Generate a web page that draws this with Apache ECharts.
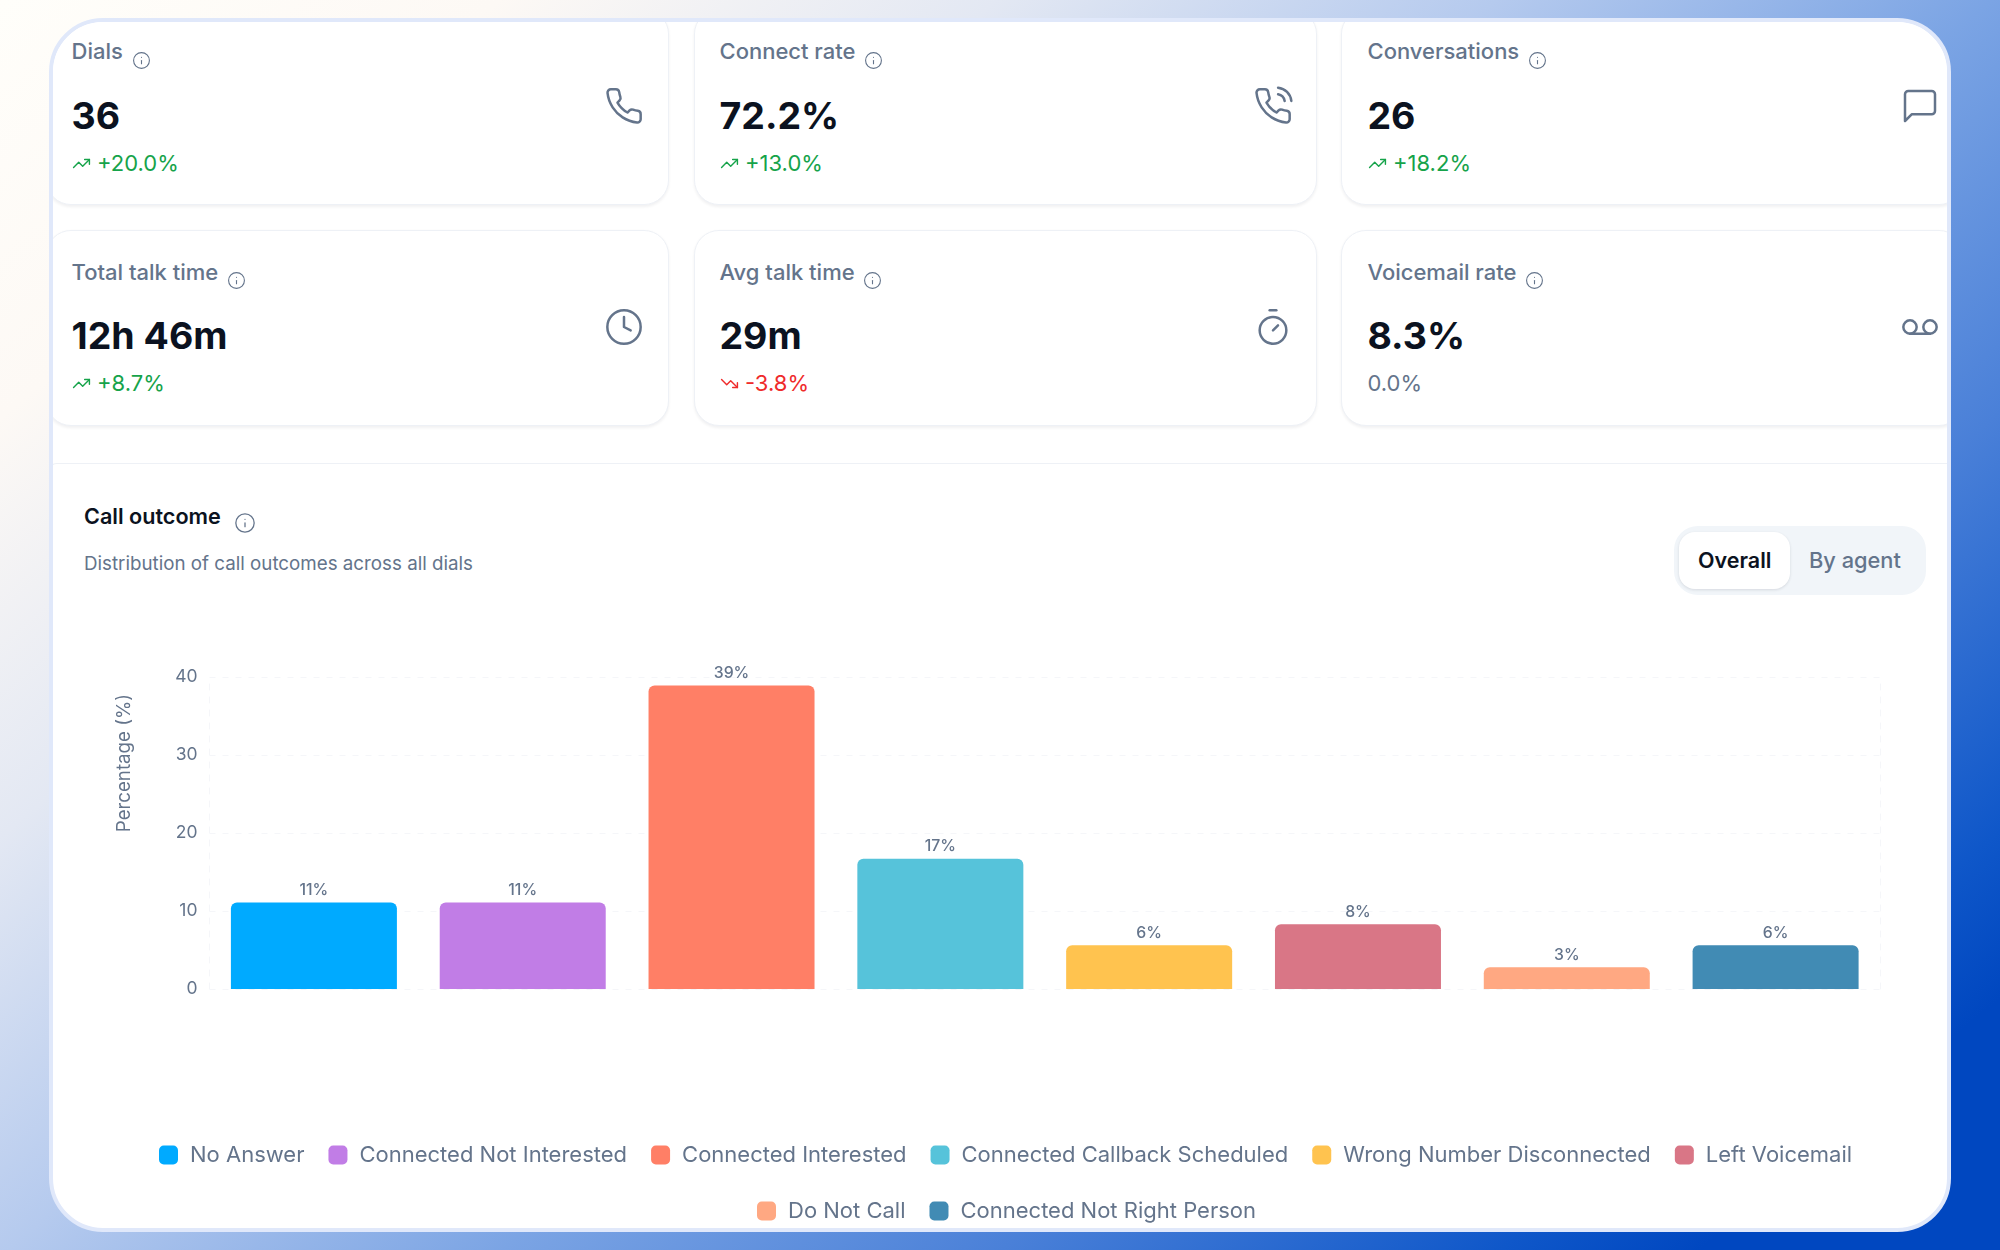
<!DOCTYPE html>
<html>
<head>
<meta charset="utf-8">
<title>Call outcome</title>
<script src="https://cdn.jsdelivr.net/npm/echarts@6/dist/echarts.min.js"></script>
<style>
html,body{margin:0;padding:0;width:2000px;height:1250px;overflow:hidden;font-family:Inter,sans-serif;}
#bg{position:absolute;left:0;top:0;width:2000px;height:1250px;background:linear-gradient(140deg,#fffefa 0%,#fdf9f5 14.3%,#e3e8f3 28.6%,#b5caee 42.9%,#7ba4e4 57.1%,#4a80d8 71.4%,#0f57c9 85.7%,#0047c0 91.4%,#0047c0 100%);}
#frame{position:absolute;left:48.5px;top:18px;width:1894.5px;height:1206px;border:4px solid #e0e8fa;border-radius:54px;background:#fff;overflow:hidden;}
#page{position:absolute;left:-52.5px;top:-22px;width:2000px;height:1250px;}
.card{position:absolute;width:623px;box-sizing:border-box;border:1.5px solid #eef1f6;border-radius:25px;background:#fff;box-shadow:0 1.5px 3px rgba(15,23,42,.06);}
.t{position:absolute;white-space:nowrap;line-height:1;}
.lab{font-size:22px;font-weight:500;color:#64748b;}
.val{font-size:37.5px;font-weight:700;color:#0b1220;}
.del{font-size:22px;font-weight:400;}
svg{position:absolute;fill:none;stroke-linecap:round;stroke-linejoin:round;}
#panel{position:absolute;left:47px;top:463px;width:1960px;height:800px;border-top:1.5px solid #eef1f6;border-left:1.5px solid #eef1f6;border-radius:10px 0 0 0;}
#toggle{position:absolute;left:1674px;top:526px;width:252px;height:69px;border-radius:24px;background:#f1f5f9;}
#pill{position:absolute;left:1679px;top:532px;width:111px;height:57px;border-radius:16px;background:#fff;box-shadow:0 1px 3px rgba(15,23,42,.12);}
#chart{position:absolute;left:0;top:0;width:2000px;height:1250px;}
</style>
</head>
<body>
<div id="bg"></div>
<div id="frame"><div id="page">
  <div id="cards"></div>
  <div id="panel"></div>
  <div class="t" style="left:84px;top:506px;font-size:21.6px;font-weight:600;color:#0b1220">Call outcome</div>
  <div class="t" style="left:84px;top:555px;font-size:18.75px;color:#64748b">Distribution of call outcomes across all dials</div>
  <div id="toggle"></div><div id="pill"></div>
  <div class="t" style="left:1698px;top:550px;font-size:21.5px;font-weight:600;color:#0b1220">Overall</div>
  <div class="t" style="left:1809px;top:550px;font-size:21.8px;font-weight:500;color:#64748b">By agent</div>
  <div id="icons"></div>
  <div id="chart"></div>
</div></div>
<script>
// ---- data ----
const categories = ["No Answer","Connected Not Interested","Connected Interested","Connected Callback Scheduled","Wrong Number Disconnected","Left Voicemail","Do Not Call","Connected Not Right Person"];
const percentages = [11.1,11.1,38.9,16.7,5.6,8.3,2.8,5.6];
const barColors = ["#00aaff","#c17de6","#ff7f66","#56c3da","#ffc34f","#d97686","#ffa882","#418bb4"];
const yTicks = {min:0,max:40,interval:10};
const legendRow1 = categories.slice(0,6);
const legendRow2 = categories.slice(6);
const kpiLabels = ["Dials","Connect rate","Conversations","Total talk time","Avg talk time","Voicemail rate"];
const kpiValues = ["36","72.2%","26","12h 46m","29m","8.3%"];
const kpiDeltas = ["+20.0%","+13.0%","+18.2%","+8.7%","-3.8%","0.0%"];
const kpiInfoX = [141.5,873.5,1537.5,236.5,872,1534];

const ICONS = {
 phone:'<path d="M22 16.92v3a2 2 0 0 1-2.18 2 19.79 19.79 0 0 1-8.63-3.07 19.5 19.5 0 0 1-6-6 19.79 19.79 0 0 1-3.07-8.67A2 2 0 0 1 4.11 2h3a2 2 0 0 1 2 1.72 12.84 12.84 0 0 0 .7 2.81 2 2 0 0 1-.45 2.11L8.09 9.91a16 16 0 0 0 6 6l1.27-1.27a2 2 0 0 1 2.11-.45 12.84 12.84 0 0 0 2.81.7A2 2 0 0 1 22 16.92z"/>',
 call:'<path d="M22 16.92v3a2 2 0 0 1-2.18 2 19.79 19.79 0 0 1-8.63-3.07 19.5 19.5 0 0 1-6-6 19.79 19.79 0 0 1-3.07-8.67A2 2 0 0 1 4.11 2h3a2 2 0 0 1 2 1.72 12.84 12.84 0 0 0 .7 2.81 2 2 0 0 1-.45 2.11L8.09 9.91a16 16 0 0 0 6 6l1.27-1.27a2 2 0 0 1 2.11-.45 12.84 12.84 0 0 0 2.81.7A2 2 0 0 1 22 16.92z"/><path d="M15.05 5A5 5 0 0 1 19 8.95"/><path d="M15.05 1A9 9 0 0 1 23 8.94"/>',
 msg:'<path d="M21 15a2 2 0 0 1-2 2H7l-4 4V5a2 2 0 0 1 2-2h14a2 2 0 0 1 2 2z"/>',
 clock:'<circle cx="12" cy="12" r="10"/><polyline points="12 6 12 12 16 14"/>',
 timer:'<line x1="10" y1="2" x2="14" y2="2"/><line x1="12" y1="14" x2="15" y2="11"/><circle cx="12" cy="14" r="8"/>',
 vm:'<circle cx="6" cy="12" r="4"/><circle cx="18" cy="12" r="4"/><line x1="6" y1="16" x2="18" y2="16"/>',
 up:'<polyline points="22 7 13.5 15.5 8.5 10.5 2 17"/><polyline points="16 7 22 7 22 13"/>',
 down:'<polyline points="22 17 13.5 8.5 8.5 13.5 2 7"/><polyline points="16 17 22 17 22 11"/>',
 info:'<circle cx="12" cy="12" r="10"/><path d="M12 16v-4"/><path d="M12 8h.01"/>'
};
function icon(name,cx,cy,size,color,sw){
  return `<svg viewBox="0 0 24 24" width="${size}" height="${size}" style="left:${cx-size/2}px;top:${cy-size/2}px;stroke:${color};stroke-width:${sw}">${ICONS[name]}</svg>`;
}
const colX=[46,694,1341], rowTop=[9,230], rowH=196;
const kpiIcons=["phone","call","msg","clock","timer","vm"];
const iconX=[624,1273,1920];
let h="";
kpiLabels.forEach((l,i)=>{
  const c=i%3,r=Math.floor(i/3),x=colX[c],y=rowTop[r];
  const tx=[71.5,719.5,1367.5][c];
  const base=r===0?[40,97,152]:[261,317,372];
  h+=`<div class="card" style="left:${x}px;top:${y}px;height:${rowH}px"></div>`;
  h+=`<div class="t lab" style="left:${tx}px;top:${base[0]}px">${l}</div>`;
  h+=`<div class="t val" style="left:${tx}px;top:${base[1]}px">${kpiValues[i]}</div>`;
  const d=kpiDeltas[i], col=d[0]==='+'?'#16a34a':d[0]==='-'?'#ef2b2b':'#64748b';
  const off=d[0]==='+'||d[0]==='-';
  h+=`<div class="t del" style="left:${tx+(off?25.5:0)}px;top:${base[2]}px;color:${col}">${d}</div>`;
  if(off) h+=icon(d[0]==='+'?'up':'down',tx+10,base[2]+11,19,col,1.8);
  h+=icon("info",kpiInfoX[i],r===0?60:280.5,19,'#64748b',1.4);
  h+=icon(kpiIcons[i],iconX[c],r===0?106:327,40,'#64748b',1.5);
});
document.getElementById('cards').innerHTML=h;
document.getElementById('icons').innerHTML=icon("info",245,523,22,'#64748b',1.4);

const labelColor='#64748b', gridColor='#f5f6f9';
const dash={color:gridColor,width:1,type:[6,7]};
const series=categories.map((name,i)=>({
  name,type:'bar',stack:'outcome',barWidth:166,
  itemStyle:{color:barColors[i],borderRadius:[6,6,0,0]},
  label:{show:true,position:'top',distance:4,fontFamily:'Inter',fontSize:15.8,fontWeight:500,color:labelColor,formatter:p=>Math.round(p.value)+'%'},
  data:categories.map((c,j)=>j===i?percentages[i]:null),
  silent:true
}));
const legendBase={orient:'horizontal',icon:'roundRect',itemWidth:19,itemHeight:19,itemGap:24,selectedMode:false,
  textStyle:{fontFamily:'Inter',fontSize:22,color:labelColor,padding:[0,0,0,7]}};
const chart=echarts.init(document.getElementById('chart'),null,{width:2000,height:1250});
chart.setOption({
  animation:false,backgroundColor:'transparent',
  grid:{left:209.5,right:120,top:677,height:312},
  xAxis:{type:'category',data:categories,axisLine:{show:false},axisTick:{show:false},axisLabel:{show:false},splitLine:{show:false}},
  yAxis:[
   {type:'value',min:yTicks.min,max:yTicks.max,interval:yTicks.interval,
    name:'Percentage (%)',nameLocation:'middle',nameGap:75.5,
    nameTextStyle:{fontFamily:'Inter',fontSize:18.7,color:labelColor,padding:[0,0,0,140]},
    axisLine:{show:true,lineStyle:dash},axisTick:{show:false},
    axisLabel:{fontFamily:'Inter',fontSize:17.5,color:labelColor,margin:12,padding:[4,0,0,0]},
    splitLine:{show:true,lineStyle:dash}},
   {type:'value',position:'right',min:yTicks.min,max:yTicks.max,interval:yTicks.interval,
    axisLine:{show:true,lineStyle:dash},axisTick:{show:false},axisLabel:{show:false},splitLine:{show:false}}
  ],
  legend:[
   Object.assign({},legendBase,{left:154,top:1139,data:legendRow1}),
   Object.assign({},legendBase,{left:752,top:1195,data:legendRow2})
  ],
  series
});
</script>
</body>
</html>
